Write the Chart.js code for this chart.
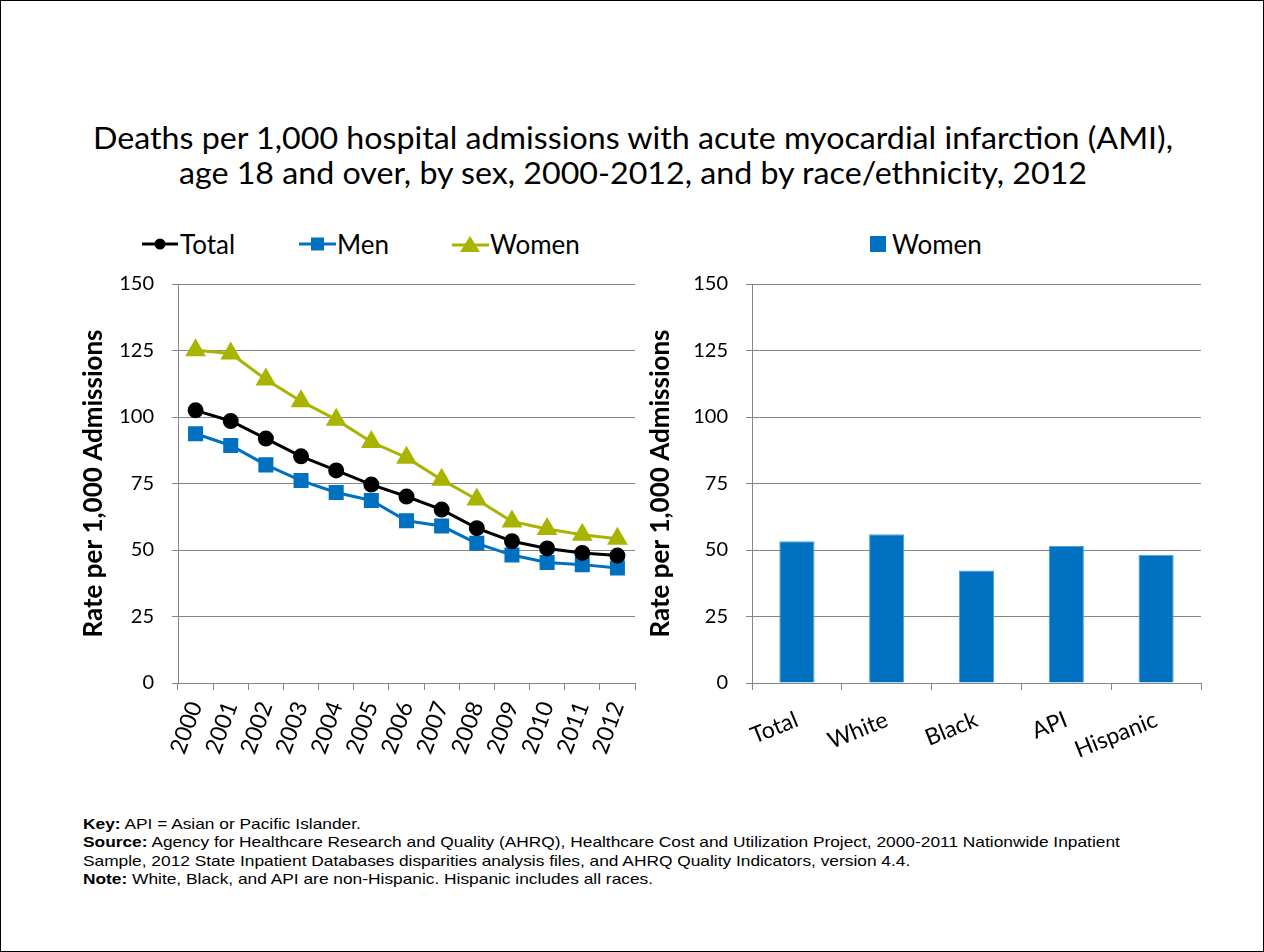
<!DOCTYPE html>
<html>
<head>
<meta charset="utf-8">
<script src="https://cdn.jsdelivr.net/npm/chart.js@4/dist/chart.umd.min.js"></script>
<style>
  html, body { margin: 0; padding: 0; background: #fff; }
  #page { position: relative; width: 1264px; height: 952px; box-sizing: border-box; border: 1px solid #000; overflow: hidden; font-family: Lato, sans-serif; }
  #title { position: absolute; left: 0; width: 1264px; top: 119px; text-align: center; font-size: 30px; line-height: 35px; color: #000; transform: scaleX(1.073); transform-origin: 632px 0; }
  .cv { position: absolute; }
  .legend { position: absolute; top: 229px; height: 28px; font-size: 26px; color: #000; }
  .legend .item { display: flex; align-items: center; position: absolute; top: 0; height: 28px; white-space: nowrap; }
  #notes { position: absolute; left: 82px; top: 814px; font-family: "Liberation Sans", Arial, sans-serif; font-size: 15px; line-height: 18.3px; color: #000; white-space: nowrap; transform: scaleX(1.155); transform-origin: 0 0; }
</style>
</head>
<body>
<div id="page">
  <div id="title">Deaths per 1,000 hospital admissions with acute myocardial infarction (AMI),<br>age 18 and over, by sex, 2000-2012, and by race/ethnicity, 2012</div>

  <div class="legend" style="left:0;width:640px;">
    <div class="item" style="left:141px;"><svg width="37" height="20"><line x1="0" y1="10" x2="36" y2="10" stroke="#000" stroke-width="3"/><circle cx="18" cy="10" r="5.5" fill="#000"/></svg><span style="margin-left:1px">Total</span></div>
    <div class="item" style="left:298px;"><svg width="38" height="20"><line x1="0" y1="10" x2="37" y2="10" stroke="#0070C0" stroke-width="3"/><rect x="12" y="3.5" width="13" height="13" fill="#0070C0"/></svg><span>Men</span></div>
    <div class="item" style="left:451px;"><svg width="38" height="20"><line x1="0" y1="11" x2="37" y2="11" stroke="#A8B400" stroke-width="3"/><polygon points="18,2 28,18 8,18" fill="#A8B400"/></svg><span>Women</span></div>
  </div>
  <div class="legend" style="left:0;width:1264px;">
    <div class="item" style="left:869px;"><svg width="22" height="20"><rect x="0" y="2" width="16" height="16" fill="#0070C0"/></svg><span>Women</span></div>
  </div>

  <canvas id="c1" class="cv" style="left:60px;top:263px;" width="600" height="520"></canvas>
  <canvas id="c2" class="cv" style="left:640px;top:263px;" width="600" height="520"></canvas>

  <div id="notes">
    <b>Key:</b> API = Asian or Pacific Islander.<br>
    <b>Source:</b> Agency for Healthcare Research and Quality (AHRQ), Healthcare Cost and Utilization Project, 2000-2011 Nationwide Inpatient<br>
    Sample, 2012 State Inpatient Databases disparities analysis files, and AHRQ Quality Indicators, version 4.4.<br>
    <b>Note:</b> White, Black, and API are non-Hispanic. Hispanic includes all races.
  </div>
</div>

<script>
// ---- Data ----
const years = ["2000","2001","2002","2003","2004","2005","2006","2007","2008","2009","2010","2011","2012"];
const totalRates = [102.5, 98.5, 91.9, 85.2, 79.9, 74.6, 70.1, 65.2, 58.2, 53.3, 50.6, 48.9, 47.9];
const menRates   = [93.7, 89.3, 82.0, 76.1, 71.6, 68.6, 61.0, 59.0, 52.5, 48.1, 45.3, 44.5, 43.2];
const womenRates = [125.1, 123.9, 114.1, 105.9, 99.0, 90.6, 84.7, 76.4, 69.0, 60.7, 57.9, 55.7, 54.2];

const raceGroups = ["Total", "White", "Black", "API", "Hispanic"];
const womenByRace = [53.3, 55.9, 42.3, 51.6, 48.2];

const yTicks = [0, 25, 50, 75, 100, 125, 150];
const yAxisTitle = "Rate per 1,000 Admissions";

// ---- Styles ----
const GRID = "#868686";
const FONT = "Lato";

function yScale(titlePad, widthPx) {
  return {
    min: 0, max: 150,
    afterBuildTicks: s => { s.ticks = yTicks.map(v => ({ value: v })); },
    afterFit: s => { s.width = widthPx; s.paddingTop = 0; s.paddingBottom = 0; },
    ticks: { color: "#000", font: { family: FONT, size: 20 }, padding: 18 },
    grid: { color: GRID, lineWidth: 1, tickLength: 6, drawTicks: true },
    border: { display: true, color: GRID, width: 1 },
    title: { display: true, text: yAxisTitle, color: "#000", font: { family: FONT, size: 26, weight: "bold" }, padding: { top: titlePad, bottom: 0 } }
  };
}
function xScale(rot, heightPx, fontSize, pad) {
  return {
    offset: true,
    afterFit: s => { s.height = heightPx; },
    ticks: { color: "#000", font: { family: FONT, size: fontSize }, minRotation: rot, maxRotation: rot, padding: pad, autoSkip: false },
    grid: { offset: true, drawOnChartArea: false, drawTicks: true, tickLength: 7, color: GRID, lineWidth: 1 },
    border: { display: true, color: GRID, width: 1 }
  };
}

new Chart(document.getElementById("c1"), {
  type: "line",
  data: {
    labels: years,
    datasets: [
      { label: "Total", data: totalRates, borderColor: "#000", backgroundColor: "#000", borderWidth: 3, pointStyle: "circle", pointRadius: 6.5, pointHoverRadius: 6.5, tension: 0 },
      { label: "Men", data: menRates, borderColor: "#0070C0", backgroundColor: "#0070C0", borderWidth: 3, pointStyle: "rect", pointRadius: 8.5, pointHoverRadius: 8.5, tension: 0 },
      { label: "Women", data: womenRates, borderColor: "#A8B400", backgroundColor: "#A8B400", borderWidth: 3, pointStyle: "triangle", pointRadius: 9, pointHoverRadius: 9, tension: 0 }
    ]
  },
  options: {
    responsive: false, animation: false,
    layout: { padding: { left: 0, right: 26, top: 20, bottom: 0 } },
    plugins: { legend: { display: false }, tooltip: { enabled: false } },
    scales: { x: xScale(70, 101, 23, 8), y: yScale(17.4, 117) }
  }
});

new Chart(document.getElementById("c2"), {
  type: "bar",
  data: {
    labels: raceGroups,
    datasets: [
      { label: "Women", data: womenByRace, backgroundColor: "#0070C0", borderColor: "#4F9FDA", borderWidth: 1, categoryPercentage: 0.8, barPercentage: 0.49 }
    ]
  },
  options: {
    responsive: false, animation: false,
    layout: { padding: { left: 0, right: 40, top: 20, bottom: 0 } },
    plugins: { legend: { display: false }, tooltip: { enabled: false } },
    scales: { x: xScale(22, 101, 23, 16), y: yScale(4.4, 111) }
  }
});
</script>
</body>
</html>
